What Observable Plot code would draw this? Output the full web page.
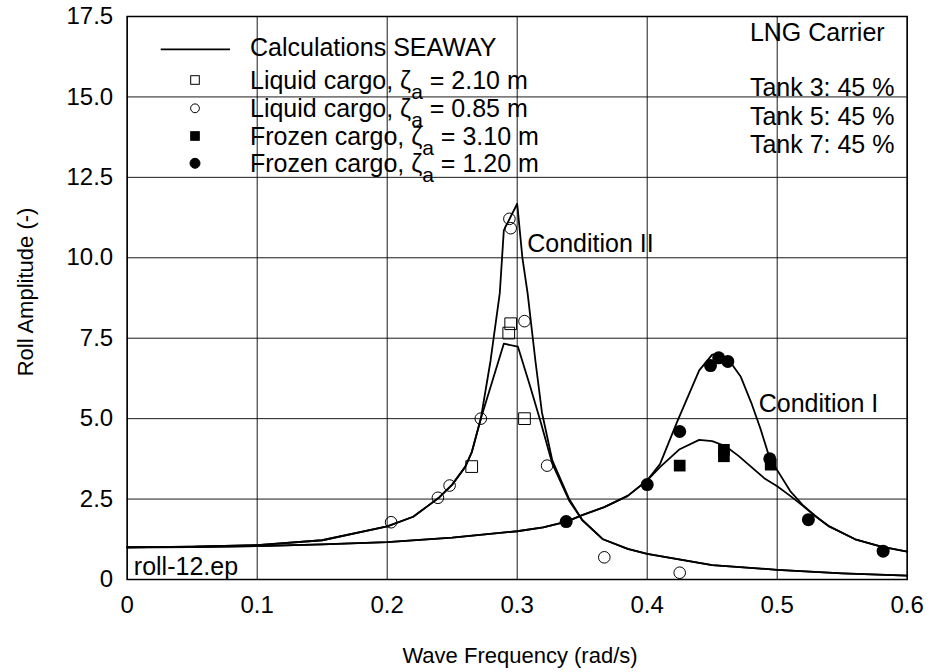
<!DOCTYPE html>
<html><head><meta charset="utf-8">
<script src="https://cdn.jsdelivr.net/npm/d3@7"></script>
<script src="https://cdn.jsdelivr.net/npm/@observablehq/plot@0.6"></script>
<style>body{margin:0;background:#fff} svg{display:block}</style>
</head><body><div id="chart"></div>
<script>
// ---- data ----
const xTicks = [0, 0.1, 0.2, 0.3, 0.4, 0.5, 0.6];
const yTicks = [0, 2.5, 5, 7.5, 10, 12.5, 15, 17.5];

// SEAWAY calculations, Condition II (two amplitudes)
const calcCond2Small = [[0,1.0],[0.05,1.02],[0.1,1.07],[0.15,1.22],[0.2,1.65],[0.22,1.95],[0.23,2.25],[0.24,2.55],[0.25,2.95],[0.26,3.5],[0.265,3.95],[0.272,5.0],[0.2795,6.8],[0.2866,8.9],[0.2897,10.85],[0.300,11.68],[0.304,10.0],[0.308,8.9],[0.314,6.8],[0.319,5.2],[0.327,3.7],[0.340,2.5],[0.35,1.85],[0.366,1.25],[0.385,0.95],[0.4,0.8],[0.45,0.45],[0.5,0.3],[0.55,0.19],[0.6,0.12]];
const calcCond2Large = [[0,1.0],[0.05,1.02],[0.1,1.07],[0.15,1.22],[0.2,1.65],[0.22,1.95],[0.23,2.25],[0.24,2.55],[0.25,2.95],[0.26,3.5],[0.265,3.95],[0.272,5.0],[0.2897,7.33],[0.3005,7.24],[0.31,6.0],[0.318,4.9],[0.327,3.6],[0.340,2.45],[0.35,1.85],[0.366,1.25],[0.385,0.95],[0.4,0.8],[0.45,0.45],[0.5,0.3],[0.55,0.19],[0.6,0.12]];
// SEAWAY calculations, Condition I (two amplitudes)
const calcCond1Small = [[0,1.0],[0.05,1.01],[0.1,1.04],[0.15,1.09],[0.2,1.16],[0.25,1.3],[0.3,1.5],[0.32,1.62],[0.338,1.8],[0.35,2.0],[0.367,2.25],[0.385,2.6],[0.4,3.08],[0.41,3.6],[0.423,4.9],[0.44,6.5],[0.45,6.99],[0.455,7.0],[0.465,6.7],[0.472,6.3],[0.48,5.5],[0.487,4.7],[0.494,3.8],[0.5,3.4],[0.51,2.75],[0.52,2.3],[0.53,1.95],[0.54,1.65],[0.56,1.25],[0.58,1.02],[0.6,0.87]];
const calcCond1Large = [[0,1.0],[0.05,1.01],[0.1,1.04],[0.15,1.09],[0.2,1.16],[0.25,1.3],[0.3,1.5],[0.32,1.62],[0.338,1.8],[0.35,2.0],[0.367,2.25],[0.385,2.6],[0.4,3.08],[0.41,3.5],[0.425,4.05],[0.44,4.34],[0.45,4.3],[0.46,4.15],[0.47,3.85],[0.48,3.5],[0.49,3.15],[0.5,2.9],[0.51,2.6],[0.52,2.28],[0.53,1.95],[0.54,1.65],[0.56,1.25],[0.58,1.02],[0.6,0.87]];

// Experiments
const liquid210 = [[0.265,3.51],[0.2935,7.66],[0.295,7.95],[0.3056,5.0]];
const liquid085 = [[0.203,1.78],[0.239,2.54],[0.248,2.92],[0.272,5.0],[0.294,11.21],[0.295,10.92],[0.3056,8.03],[0.323,3.54],[0.367,0.69],[0.425,0.21]];
const frozen310 = [[0.425,3.54],[0.459,4.03],[0.459,3.83],[0.495,3.57]];
const frozen120 = [[0.3377,1.80],[0.400,2.95],[0.425,4.60],[0.4487,6.65],[0.455,6.89],[0.462,6.78],[0.4943,3.75],[0.524,1.86],[0.5815,0.88]];

const annotations = [
  {x: 0.3077, y: 10.44, text: "Condition II"},
  {x: 0.4858, y: 5.44, text: "Condition I"},
  {x: 0.479, y: 17.0, text: "LNG Carrier"},
  {x: 0.479, y: 15.29, text: "Tank 3: 45 %"},
  {x: 0.479, y: 14.39, text: "Tank 5: 45 %"},
  {x: 0.479, y: 13.52, text: "Tank 7: 45 %"},
  {x: 0.0051, y: 0.40, text: "roll-12.ep"}
];

const FONT = "'Liberation Sans', Arial, Helvetica, sans-serif";
const X = d => d[0], Y = d => d[1];
const lineOpts = {x: X, y: Y, stroke: "#000", strokeWidth: 1.8, curve: "linear"};

const plot = Plot.plot({
  width: 929, height: 672,
  marginLeft: 126.7, marginRight: 22.3, marginTop: 16, marginBottom: 93,
  style: {fontFamily: FONT, fontSize: "24px", background: "#fff", color: "#000"},
  x: {domain: [0, 0.6]},
  y: {domain: [0, 17.5]},
  marks: [
    Plot.gridX(xTicks, {stroke: "#000", strokeOpacity: 0.9, strokeWidth: 1}),
    Plot.gridY(yTicks, {stroke: "#000", strokeOpacity: 0.9, strokeWidth: 1}),
    Plot.frame({stroke: "#000", strokeWidth: 1.5}),
    Plot.axisX({ticks: xTicks, tickSize: 0, tickPadding: 16, label: null, fontSize: 24,
      tickFormat: d => d === 0 ? "0" : String(d)}),
    Plot.axisY({ticks: yTicks, tickSize: 0, tickPadding: 14, label: null, fontSize: 24,
      tickFormat: d => d === 0 ? "0" : d.toFixed(1)}),
    Plot.line(calcCond2Small, lineOpts),
    Plot.line(calcCond2Large, lineOpts),
    Plot.line(calcCond1Small, lineOpts),
    Plot.line(calcCond1Large, lineOpts),
    Plot.dot(liquid210, {x: X, y: Y, symbol: "square", r: 6.6, fill: "none", stroke: "#000", strokeWidth: 1}),
    Plot.dot(liquid085, {x: X, y: Y, symbol: "circle", r: 5.8, fill: "none", stroke: "#000", strokeWidth: 1}),
    Plot.dot(frozen310, {x: X, y: Y, symbol: "square", r: 6.6, fill: "#000", stroke: "none"}),
    Plot.dot(frozen120, {x: X, y: Y, symbol: "circle", r: 6.5, fill: "#000", stroke: "none"}),
    Plot.text(annotations, {x: "x", y: "y", text: "text", fontSize: 25, textAnchor: "start", lineAnchor: "middle", fill: "#000"})
  ]
});

const svg = d3.select(plot);
// axis titles
svg.append("text").attr("x", 520).attr("y", 663).attr("text-anchor", "middle")
  .attr("font-family", FONT).attr("font-size", 22).attr("fill", "#000").text("Wave Frequency (rad/s)");
svg.append("text").attr("transform", "translate(33,292) rotate(-90)").attr("text-anchor", "middle")
  .attr("font-family", FONT).attr("font-size", 22).attr("fill", "#000").text("Roll Amplitude (-)");

// legend
const lg = svg.append("g").attr("font-family", FONT).attr("font-size", 25).attr("fill", "#000").attr("text-anchor", "start");
lg.append("line").attr("x1", 160.7).attr("x2", 230).attr("y1", 49.3).attr("y2", 49.3).attr("stroke", "#000").attr("stroke-width", 1.8);
lg.append("text").attr("x", 250).attr("y", 56).attr("text-anchor", "start").text("Calculations SEAWAY");
const rows = [
  {y: 89.3, my: 80, sym: "square", fill: false, a: "Liquid cargo, ", b: " = 2.10 m"},
  {y: 116.7, my: 108.3, sym: "circle", fill: false, a: "Liquid cargo, ", b: " = 0.85 m"},
  {y: 145, my: 136, sym: "square", fill: true, a: "Frozen cargo, ", b: " = 3.10 m"},
  {y: 171.7, my: 163.3, sym: "circle", fill: true, a: "Frozen cargo, ", b: " = 1.20 m"}
];
rows.forEach(r => {
  if (r.sym === "square") {
    lg.append("rect").attr("x", 195 - 4.3).attr("y", r.my - 4.3).attr("width", 8.6).attr("height", 8.6)
      .attr("fill", r.fill ? "#000" : "none").attr("stroke", "#000").attr("stroke-width", 1);
  } else {
    lg.append("circle").attr("cx", 195).attr("cy", r.my).attr("r", r.fill ? 5 : 4.4)
      .attr("fill", r.fill ? "#000" : "none").attr("stroke", "#000").attr("stroke-width", 1);
  }
  const t = lg.append("text").attr("x", 250).attr("y", r.y).attr("text-anchor", "start");
  t.append("tspan").text(r.a + "ζ");
  t.append("tspan").attr("dy", 10).attr("font-size", 21).text("a");
  t.append("tspan").attr("dy", -10).text(r.b);
});

document.getElementById("chart").appendChild(plot);
</script>
</body></html>
